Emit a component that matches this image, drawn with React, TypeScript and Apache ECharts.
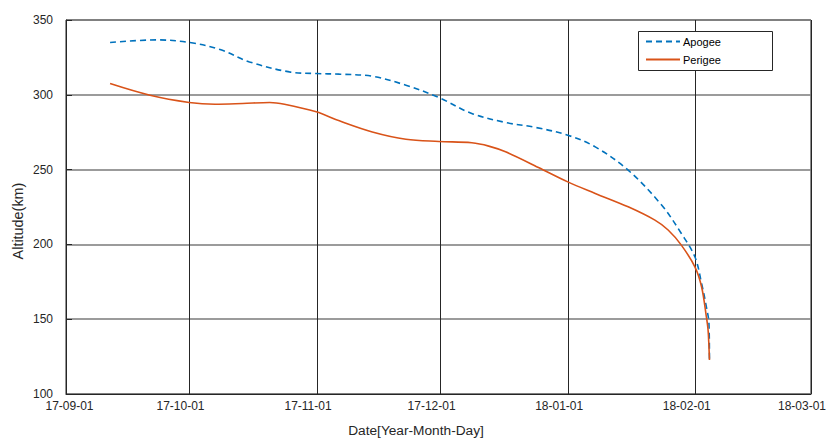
import React, { useEffect, useRef } from "react";
import * as echarts from "echarts";

const apogeeDates = [
  "2017-09-11 17:00", "2017-09-23 02:00", "2017-09-30 22:00", "2017-10-08 10:00",
  "2017-10-15 14:00", "2017-10-25 07:00", "2017-10-31 19:00", "2017-11-06 10:00",
  "2017-11-14 10:00", "2017-11-22 14:00", "2017-11-30 14:00", "2017-12-08 14:00",
  "2017-12-16 19:00", "2017-12-24 02:00", "2017-12-31 22:00", "2018-01-07 14:00",
  "2018-01-15 14:00", "2018-01-23 17:00", "2018-01-28 12:00", "2018-01-31 19:00",
  "2018-02-02 10:00", "2018-02-03 14:00", "2018-02-04 05:00", "2018-02-04 08:00",
];
const apogeeValues = [
  335.0, 336.7, 335.0, 330.3, 322.0, 315.3, 314.2, 313.8, 312.4, 306.4, 298.2, 287.5,
  281.5, 278.2, 273.0, 265.2, 249.6, 226.3, 207.3, 191.7, 174.0, 158.3, 147.4, 123.0,
];

const perigeeDates = [
  "2017-09-11 17:00", "2017-09-21 10:00", "2017-09-30 22:00", "2017-10-07 05:00",
  "2017-10-13 22:00", "2017-10-20 12:00", "2017-10-24 02:00", "2017-10-31 19:00",
  "2017-11-06 10:00", "2017-11-14 10:00", "2017-11-22 14:00", "2017-11-30 14:00",
  "2017-12-08 14:00", "2017-12-12 17:00", "2017-12-16 19:00", "2017-12-24 19:00",
  "2017-12-31 22:00", "2018-01-07 14:00", "2018-01-15 14:00", "2018-01-22 02:00",
  "2018-01-25 07:00", "2018-01-28 12:00", "2018-01-31 19:00", "2018-02-02 10:00",
  "2018-02-03 14:00", "2018-02-04 00:00", "2018-02-04 05:00", "2018-02-04 08:00",
];
const perigeeValues = [
  307.5, 299.7, 294.9, 293.7, 294.2, 294.9, 293.7, 288.6, 282.6, 275.2, 270.3, 268.8,
  267.9, 265.7, 261.9, 251.4, 241.8, 234.1, 225.1, 216.2, 209.6, 199.5, 185.0, 171.7,
  151.6, 142.7, 131.6, 122.7,
];

const xMin = "2017-09-01";
const xMax = "2018-03-01";
const yTicks = [100, 150, 200, 250, 300, 350];
const seriesNames = ["Apogee", "Perigee"];

const FONT = "Arial, 'Liberation Sans', Helvetica, sans-serif";
const TEXT = "#262626";

function fmt(v: number) {
  const d = new Date(v);
  const yy = String(d.getFullYear()).slice(2);
  const mm = String(d.getMonth() + 1).padStart(2, "0");
  const dd = String(d.getDate()).padStart(2, "0");
  return `${yy}-${mm}-${dd}`;
}

export default function App() {
  const ref = useRef<HTMLDivElement>(null);
  useEffect(() => {
    if (!ref.current) return;
    const chart = echarts.init(ref.current, undefined, { renderer: "svg" });
    const firstTs = new Date(xMin).getTime();
    chart.setOption({
      animation: false,
      backgroundColor: "#ffffff",
      textStyle: { fontFamily: FONT },
      grid: { left: 66, right: 16, top: 20, bottom: 44, show: true, borderColor: TEXT, borderWidth: 1 },
      xAxis: {
        type: "time",
        min: xMin,
        max: xMax,
        splitNumber: 6,
        minInterval: 28 * 86400000,
        axisLine: { show: true, lineStyle: { color: TEXT, width: 1 } },
        axisTick: { show: false },
        splitLine: { show: true, lineStyle: { color: "#262626", width: 1 } },
        axisLabel: {
          color: TEXT,
          fontSize: 12,
          fontFamily: FONT,
          margin: 6,
          showMinLabel: true,
          showMaxLabel: true,
          hideOverlap: false,
          formatter: (v: number) => (Math.abs(v - firstTs) < 86400000 ? `{f|${fmt(v)}}` : `{o|${fmt(v)}}`),
          rich: {
            f: { fontSize: 12, fontFamily: FONT, color: TEXT, padding: [0, 0, 0, 7] },
            o: { fontSize: 12, fontFamily: FONT, color: TEXT, padding: [0, 18, 0, 0] },
          },
        },
      },
      yAxis: {
        type: "value",
        min: yTicks[0],
        max: yTicks[yTicks.length - 1],
        interval: 50,
        axisLine: { show: true, lineStyle: { color: TEXT, width: 1 } },
        axisTick: { show: true, inside: true, length: 6, lineStyle: { color: TEXT } },
        splitLine: { show: true, lineStyle: { color: "#7a7a7a", width: 1.5 } },
        axisLabel: { color: TEXT, fontSize: 12, fontFamily: FONT, margin: 13, padding: [0, 0, 6, 0] },
      },
      legend: {
        data: seriesNames,
        orient: "vertical",
        left: 645,
        top: 36,
        itemWidth: 34,
        itemHeight: 12,
        itemGap: 7,
        padding: 0,
        z: 20,
        itemStyle: { opacity: 0 },
        textStyle: { color: "#000", fontSize: 11, fontFamily: FONT, padding: [0, 0, 0, -2] },
      },
      graphic: [
        {
          type: "rect",
          z: 10,
          shape: { x: 638.5, y: 31.5, width: 134, height: 39 },
          style: { fill: "#ffffff", stroke: TEXT, lineWidth: 1 },
        },
        {
          type: "text",
          x: 416,
          y: 430,
          style: { text: "Date[Year-Month-Day]", fill: TEXT, font: `13.7px ${FONT}`, align: "center", verticalAlign: "middle" },
        },
        {
          type: "text",
          x: 18,
          y: 221,
          rotation: Math.PI / 2,
          style: { text: "Altitude(km)", fill: TEXT, font: `14.4px ${FONT}`, align: "center", verticalAlign: "middle" },
        },
      ],
      series: [
        {
          name: seriesNames[0],
          type: "line",
          data: apogeeDates.map((d, i) => [d, apogeeValues[i]]),
          showSymbol: false,
          symbol: "none",
          smooth: 0.35,
          lineStyle: { color: "#0072BD", width: 1.6, type: [6, 4] },
          itemStyle: { color: "#0072BD" },
          z: 3,
        },
        {
          name: seriesNames[1],
          type: "line",
          data: perigeeDates.map((d, i) => [d, perigeeValues[i]]),
          showSymbol: false,
          symbol: "none",
          smooth: 0.35,
          lineStyle: { color: "#D95319", width: 1.6 },
          itemStyle: { color: "#D95319" },
          z: 4,
        },
      ],
    });
    return () => chart.dispose();
  }, []);
  return <div ref={ref} style={{ width: 829, height: 438, position: "absolute", left: 0, top: 0 }} />;
}
